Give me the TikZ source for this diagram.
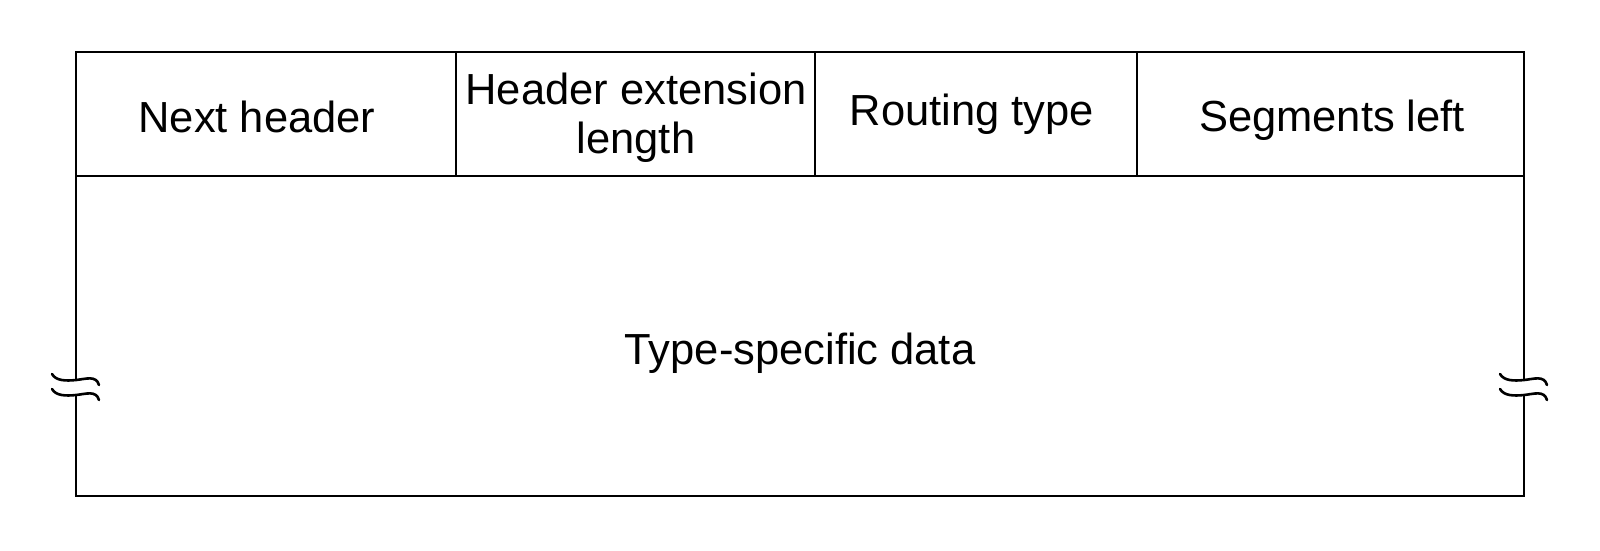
\documentclass[tikz,border=0pt]{standalone}
\usepackage{fontspec}
\setmainfont{Liberation Sans}
\begin{document}
\begin{tikzpicture}[x=1pt,y=-1pt,
  frame/.style={line width=2.6pt,line cap=rect},
  brk/.style={line width=2.6pt,line cap=round},
  lbl/.style={font=\fontsize{43.5}{49}\selectfont,align=center,inner sep=0pt}]
\useasboundingbox (0,0) rectangle (1600,550);

% corners of the frame and the header row
\coordinate (tl) at (76,52);
\coordinate (tr) at (1524,52);
\coordinate (bl) at (76,496);
\coordinate (br) at (1524,496);
\coordinate (hl) at (76,176);
\coordinate (hr) at (1524,176);
% ends of the broken side lines
\coordinate (la) at (76,380);
\coordinate (lb) at (76,395);
\coordinate (ra) at (1524,380);
\coordinate (rb) at (1524,395);

% outline
\draw[frame] (hl) -- (tl) -- (tr) -- (hr);
\draw[frame] (hl) -- (hr);
\draw[frame] (hl) -- (la);
\draw[frame] (lb) -- (bl) -- (br) -- (rb);
\draw[frame] (hr) -- (ra);

% field dividers
\draw[frame] (456,52) -- (456,176);
\draw[frame] (815,52) -- (815,176);
\draw[frame] (1137,52) -- (1137,176);

% break marks on both sides
\foreach \cx in {76,1524}{
  \foreach \cy in {380,395}{
    \draw[brk] (\cx-24,\cy-6) .. controls (\cx-20,\cy+1) and (\cx-10,\cy+1) .. (\cx,\cy)
      .. controls (\cx+10,\cy-1) and (\cx+20,\cy-5) .. (\cx+23,\cy+5);
  }
}

% field labels
\node[lbl] (nh) at (257,117) {Next header};
\node[lbl] (hel) at (636,118) {Header extension\\length};
\node[lbl] (rt) at (972,114) {Routing type};
\node[lbl] (sl) at (1332,120) {Segments left};
\node[lbl] (tsd) at (800,353) {Type-specific data};
\end{tikzpicture}
\end{document}
